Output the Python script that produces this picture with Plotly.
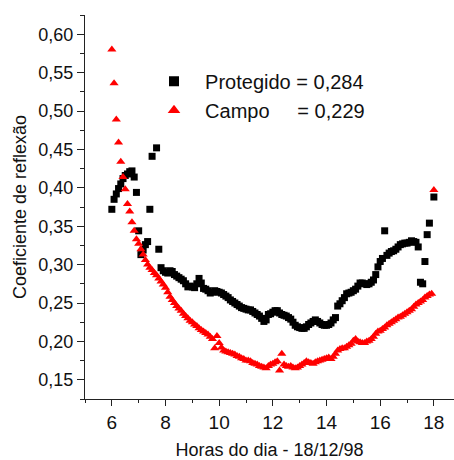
import plotly.graph_objects as go

# Time of day (hours), 5-minute readings from 6:00 to 18:00
hours = [6 + i * 5 / 60 for i in range(145)]

# Protegido (black squares)
protegido = [
    # 6h
    0.372, 0.385, 0.392, 0.399, 0.405, 0.412, 0.416, 0.418, 0.421, 0.422, 0.414, 0.394,
    # 7h
    0.344, 0.313, 0.319, 0.326, 0.330, 0.372, 0.441, None, 0.452, 0.320, 0.296, 0.292,
    # 8h
    0.290, 0.289, 0.292, 0.291, 0.287, 0.285, 0.283, 0.281, 0.279, 0.275, 0.271, 0.272,
    # 9h
    0.271, 0.270, 0.275, 0.282, 0.276, 0.269, 0.268, 0.266, 0.263, 0.264, 0.266, 0.265,
    # 10h
    0.264, 0.263, 0.261, 0.259, 0.257, 0.254, 0.252, 0.250, 0.248, 0.246, 0.244, 0.243,
    # 11h
    0.242, 0.241, 0.241, 0.239, 0.237, 0.235, 0.233, 0.230, 0.226, 0.228, 0.235, 0.236,
    # 12h
    0.238, 0.240, 0.240, 0.237, 0.235, 0.234, 0.233, 0.231, 0.229, 0.225, 0.221, 0.219,
    # 13h
    0.218, 0.217, 0.217, 0.219, 0.222, 0.224, 0.226, 0.228, 0.226, 0.224, 0.222, 0.221,
    # 14h
    0.221, 0.222, 0.224, 0.228, 0.231, 0.246, 0.249, 0.253, 0.257, 0.262, 0.263, 0.264,
    # 15h
    0.266, 0.268, 0.272, 0.276, 0.276, 0.275, 0.274, 0.275, 0.277, 0.280, 0.287, 0.297,
    # 16h
    0.304, 0.308, 0.344, 0.312, 0.315, 0.317, 0.318, 0.320, 0.323, 0.326, 0.327, 0.328,
    # 17h
    0.328, 0.329, 0.331, 0.330, 0.329, 0.323, 0.277, 0.275, 0.304, 0.339, 0.354, None,
    # 18h
    0.388,
]

# Campo (red triangles)
campo = [
    # 6h
    0.580, 0.536, 0.489, 0.459, 0.434, 0.414, 0.398, 0.379, 0.369, 0.355, 0.344, 0.333,
    # 7h
    0.327, 0.320, 0.313, 0.306, 0.300, 0.296, 0.293, 0.289, 0.286, 0.282, 0.278, 0.274,
    # 8h
    0.270, 0.264, 0.258, 0.254, 0.250, 0.246, 0.243, 0.240, 0.236, 0.233, 0.230, 0.227,
    # 9h
    0.225, 0.222, 0.220, 0.217, 0.215, 0.213, 0.211, 0.209, 0.206, 0.203, 0.191, 0.207,
    # 10h
    0.198, 0.192, 0.188, 0.187, 0.186, 0.185, 0.184, 0.183, 0.181, 0.180, 0.178, 0.177,
    # 11h
    0.175, 0.175, 0.174, 0.172, 0.171, 0.170, 0.168, 0.167, 0.166, 0.165, 0.168, 0.170,
    # 12h
    0.171, 0.173, 0.174, 0.162, 0.184, 0.170, 0.168, 0.167, 0.168, 0.166, 0.165, 0.166,
    # 13h
    0.168, 0.170, 0.172, 0.174, 0.173, 0.172, 0.171, 0.173, 0.174, 0.175, 0.176, 0.177,
    # 14h
    0.178, 0.179, 0.177, 0.180, 0.184, 0.188, 0.190, 0.191, 0.191, 0.193, 0.195, 0.197,
    # 15h
    0.201, 0.203, 0.200, 0.199, 0.198, 0.198, 0.200, 0.201, 0.203, 0.206, 0.210, 0.213,
    # 16h
    0.214, 0.216, 0.218, 0.221, 0.223, 0.225, 0.227, 0.229, 0.231, 0.232, 0.234, 0.236,
    # 17h
    0.238, 0.240, 0.242, 0.245, 0.248, 0.250, 0.252, 0.254, 0.257, 0.259, 0.261, 0.262,
    # 18h
    0.397,
]

name_protegido = "\u00a0\u00a0Protegido = 0,284"
name_campo = "\u00a0\u00a0Campo\u00a0\u00a0\u00a0\u00a0\u00a0= 0,229"

x_title = "Horas do dia - 18/12/98"
y_title = "Coeficiente de reflexão"

FONT = "Liberation Sans, Arial, sans-serif"
TXT = "#111111"
AX = "#222222"

fig = go.Figure()
fig.add_trace(go.Scatter(
    x=hours, y=protegido, mode="markers", name=name_protegido, showlegend=False,
    marker=dict(symbol="square", size=7, color="#000000"),
))
fig.add_trace(go.Scatter(
    x=hours, y=campo, mode="markers", name=name_campo, showlegend=False,
    marker=dict(symbol="triangle-up", size=8, color="#ff0000"),
))
# legend entries (larger symbols, as in the original key)
fig.add_trace(go.Scatter(
    x=[None], y=[None], mode="markers", name=name_protegido,
    marker=dict(symbol="square", size=10, color="#000000"),
))
fig.add_trace(go.Scatter(
    x=[None], y=[None], mode="markers", name=name_campo,
    marker=dict(symbol="triangle-up", size=11, color="#ff0000"),
))

fig.update_layout(
    width=454, height=460,
    margin=dict(l=85, r=0, t=15, b=61),
    paper_bgcolor="white", plot_bgcolor="white",
    separators=",.",
    font=dict(family=FONT, color=TXT, size=18),
    legend=dict(
        x=0.187, y=0.878, xanchor="left", yanchor="top",
        font=dict(size=20, family=FONT, color=TXT),
        bgcolor="rgba(0,0,0,0)", tracegroupgap=0,
    ),
    xaxis=dict(
        range=[5, 18.75], showgrid=False, zeroline=False,
        showline=True, linecolor=AX, linewidth=1.3,
        ticks="outside", ticklen=6, tickwidth=1.3, tickcolor=AX,
        tick0=6, dtick=2,
        minor=dict(ticks="outside", ticklen=3, tickwidth=1.3, tickcolor=AX, dtick=1, tick0=5),
        tickfont=dict(size=19, family=FONT, color=TXT),
        title=dict(text=x_title, font=dict(size=18, family=FONT, color=TXT), standoff=13),
    ),
    yaxis=dict(
        range=[0.125, 0.625], showgrid=False, zeroline=False,
        showline=True, linecolor=AX, linewidth=1.3,
        ticks="outside", ticklen=7, tickwidth=1.3, tickcolor=AX,
        tick0=0.15, dtick=0.05, tickformat=".2f",
        minor=dict(ticks="outside", ticklen=4, tickwidth=1.3, tickcolor=AX, dtick=0.025),
        tickfont=dict(size=18, family=FONT, color=TXT),
        title=dict(text=y_title, font=dict(size=18, family=FONT, color=TXT), standoff=6),
    ),
)

fig.write_html("out.html")
